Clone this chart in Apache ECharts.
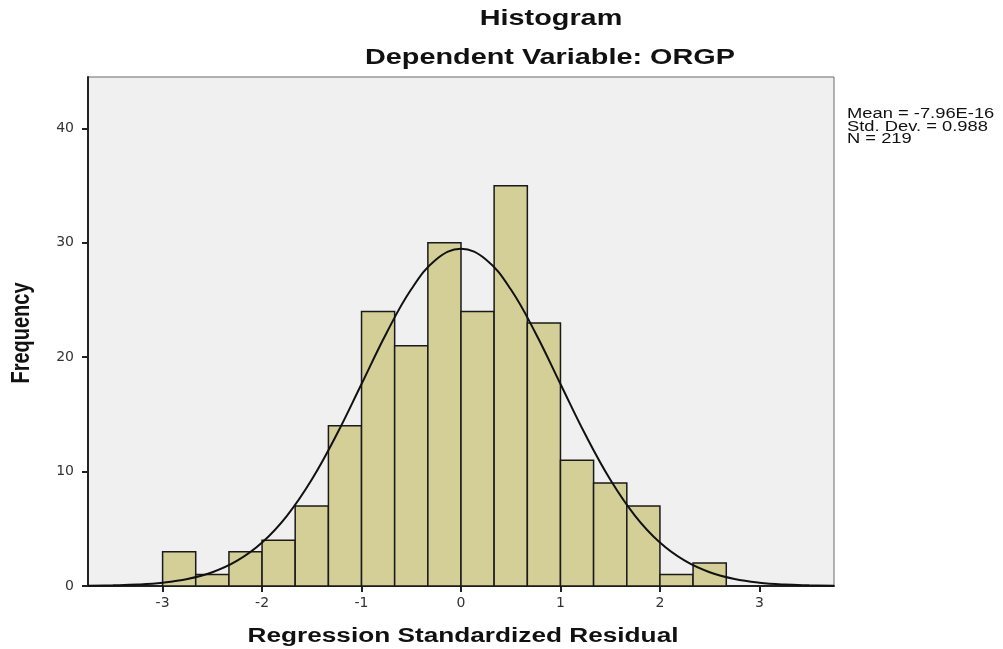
<!DOCTYPE html>
<html>
<head>
<meta charset="utf-8">
<script src="https://cdn.jsdelivr.net/npm/echarts@6/dist/echarts.min.js"></script>
<style>
  html, body { margin: 0; padding: 0; background: #fff; }
  #chart { width: 1003px; height: 649px; }
</style>
</head>
<body>
<div id="chart"></div>
<script>
// histogram bins: left edge, right edge, frequency
const binLeft = [-3, -2.667, -2.333, -2, -1.667, -1.333, -1, -0.667, -0.333, 0, 0.333, 0.667, 1, 1.333, 1.667, 2, 2.333];
const binRight = [-2.667, -2.333, -2, -1.667, -1.333, -1, -0.667, -0.333, 0, 0.333, 0.667, 1, 1.333, 1.667, 2, 2.333, 2.667];
const counts = [3, 1, 3, 4, 7, 14, 24, 21, 30, 24, 35, 23, 11, 9, 7, 1, 2];

// normal curve
const curveX = [-3.75, -3.5, -3.25, -3, -2.75, -2.5, -2.25, -2, -1.75, -1.5, -1.25, -1, -0.75, -0.5, -0.25, 0,
  0.25, 0.5, 0.75, 1, 1.25, 1.5, 1.75, 2, 2.25, 2.5, 2.75, 3, 3.25, 3.5, 3.75];
const curveY = [0.02, 0.06, 0.13, 0.29, 0.61, 1.2, 2.21, 3.8, 6.14, 9.31, 13.24, 17.66, 22.1, 25.94, 28.55, 29.48,
  28.55, 25.94, 22.1, 17.66, 13.24, 9.31, 6.14, 3.8, 2.21, 1.2, 0.61, 0.29, 0.13, 0.06, 0.02];

const xTicks = [-3, -2, -1, 0, 1, 2, 3];
const statsLines = ["Mean = -7.96E-16", "Std. Dev. = 0.988", "N = 219"];

const FONT = "'Liberation Sans', Arial, sans-serif";
const STRETCH = 1.31; // the picture is wider than normal text

let myChart = echarts.init(document.getElementById("chart"));

let barData = counts.map((c, i) => [binLeft[i], binRight[i], c]);
let curveData = curveX.map((x, i) => [x, curveY[i]]);

let option = {
  backgroundColor: "#fff",
  animation: false,
  grid: {
    left: 88,
    right: 169,
    top: 77,
    bottom: 63,
    show: true,
    backgroundColor: "#f0f0f0",
    borderColor: "#6a6a6a",
    borderWidth: 1,
  },
  xAxis: {
    type: "value",
    min: -3.75,
    max: 3.75,
    axisLine: { show: true, onZero: false, lineStyle: { color: "#222", width: 2 } },
    axisTick: { show: true, customValues: xTicks, length: 6, lineStyle: { color: "#222", width: 2 } },
    axisLabel: {
      customValues: xTicks,
      margin: 10,
      color: "#333",
      fontFamily: "'DejaVu Sans', sans-serif",
      fontSize: 14,
    },
    splitLine: { show: false },
  },
  yAxis: {
    type: "value",
    min: 0,
    max: 44.5,
    interval: 10,
    axisLine: { show: true, onZero: false, lineStyle: { color: "#222", width: 2 } },
    axisTick: { show: true, length: 6, lineStyle: { color: "#222", width: 2 } },
    axisLabel: {
      margin: 14,
      color: "#333",
      fontFamily: "'DejaVu Sans', sans-serif",
      fontSize: 14,
      showMaxLabel: false,
    },
    splitLine: { show: false },
  },
  series: [
    {
      type: "custom",
      data: barData,
      encode: { x: [0, 1], y: 2 },
      renderItem: (params, api) => {
        let p0 = api.coord([api.value(0), api.value(2)]);
        let p1 = api.coord([api.value(1), 0]);
        return {
          type: "rect",
          shape: { x: p0[0], y: p0[1], width: p1[0] - p0[0], height: p1[1] - p0[1] },
          style: { fill: "#d3cf97", stroke: "#1a1a1a", lineWidth: 1.5 },
        };
      },
      z: 2,
    },
    {
      type: "line",
      data: curveData,
      smooth: 0.4,
      symbol: "none",
      lineStyle: { color: "#111", width: 2 },
      z: 3,
    },
  ],
  graphic: [
    {
      type: "text", x: 551, y: 19, scaleX: STRETCH,
      style: { text: "Histogram", font: "bold 22px " + FONT, fill: "#111", align: "center", verticalAlign: "middle" },
    },
    {
      type: "text", x: 550, y: 58, scaleX: STRETCH,
      style: { text: "Dependent Variable: ORGP", font: "bold 22px " + FONT, fill: "#111", align: "center", verticalAlign: "middle" },
    },
    {
      type: "text", x: 463, y: 636, scaleX: STRETCH,
      style: { text: "Regression Standardized Residual", font: "bold 20px " + FONT, fill: "#111", align: "center", verticalAlign: "middle" },
    },
    {
      type: "text", x: 22, y: 333, rotation: Math.PI / 2, scaleY: STRETCH,
      style: { text: "Frequency", font: "bold 20px " + FONT, fill: "#111", align: "center", verticalAlign: "middle" },
    },
    {
      type: "text", x: 847, y: 108, scaleX: STRETCH,
      style: { text: statsLines.join("\n"), font: "14px " + FONT, lineHeight: 12.5, fill: "#111", align: "left", verticalAlign: "top" },
    },
  ],
};

myChart.setOption(option);
</script>
</body>
</html>
